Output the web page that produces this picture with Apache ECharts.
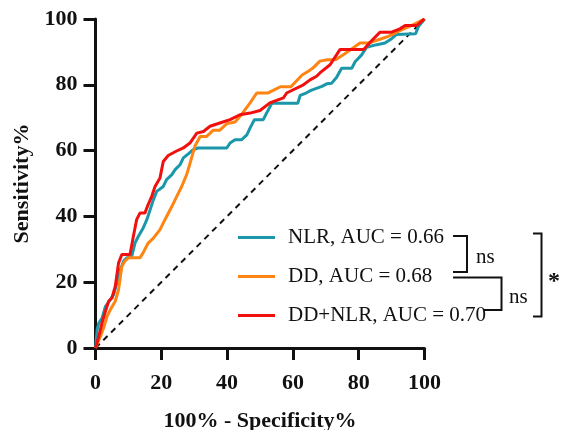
<!DOCTYPE html>
<html>
<head>
<meta charset="utf-8">
<script src="https://cdn.jsdelivr.net/npm/echarts@6/dist/echarts.min.js"></script>
<style>
  html, body { margin: 0; padding: 0; background: #fff; }
  #chart { width: 561px; height: 430px; }
</style>
</head>
<body>
<div id="chart"></div>
<script>
// ROC curves: [100% - specificity %, sensitivity %]
const nlrPoints = [
  [0,0],[0.5,5.6],[1,7.6],[2,9.1],[3,12.6],[4.5,14.7],[5.5,16.2],[6.5,19.8],[7.5,23.8],
  [8.6,26.5],[9.5,27.4],[11,27.8],[12,31.9],[13,33.9],[14.5,36.5],[15.6,39],[16.6,42],
  [17.6,45.1],[18.6,47.6],[20.6,49.1],[21.6,51.2],[23.2,52.7],[24.2,54.2],[25.7,55.7],
  [26.7,57.8],[28.2,59],[29.7,60.3],[31.2,60.8],[39.9,60.8],[40.9,62.3],[42.4,63.3],
  [44.4,63.3],[46,64.8],[47,66.9],[48.3,69.4],[51,69.4],[52,71.4],[53.6,74.4],[61.5,74.4],
  [62.2,76.8],[64,77.5],[65.5,78.3],[68.8,79.5],[70.3,80.3],[71.8,80.5],[73.3,82.3],
  [74.8,85],[77.9,85],[78.9,87],[80.9,89.1],[82.4,91.4],[85.5,92.2],[88,92.7],[90,94],
  [91.5,95.3],[97.3,95.5],[98.1,97.6],[100,100]
];
const ddPoints = [
  [0,0],[1.5,3.5],[2.5,6.2],[3.5,9.6],[4.5,11.6],[6,14.2],[7,17.7],[8,24.8],[9,26.5],
  [10,27.4],[13.5,27.4],[14.5,29],[16,31.9],[17.6,33.4],[19.6,36],[21.1,39],[23.2,43],
  [24.7,46.1],[26.2,49.1],[27.7,52.7],[28.4,55],[30.2,61.3],[31.8,64.3],[33.8,64.3],
  [35.8,66.2],[37.8,66.2],[39.9,68.2],[42.4,68.7],[44.4,71],[47,74.5],[49,77.5],
  [52.3,77.5],[54,78.3],[56.2,79.4],[59.4,79.4],[62.8,83],[64.8,84.2],[66,85],
  [68.2,87.2],[70.5,87.6],[73,87.6],[75.3,89.1],[80.4,92.7],[82.9,92.7],[86,93.7],
  [89,94.7],[92,96.2],[95.6,97.8],[100,100]
];
const ddNlrPoints = [
  [0,0],[1,3.5],[2,7.7],[3,11.1],[4,14.2],[5,15.2],[6,18.7],[7,25.8],[8,28.4],[10.5,28.4],
  [11.5,33.9],[12.5,39],[13.5,41],[15,41],[16,43.6],[17.1,46.1],[18.1,49.1],[19.6,51.7],
  [20.6,56.7],[22.1,58.5],[24.5,59.8],[26.7,60.8],[28.7,62.3],[30.8,65.3],[32.8,65.8],
  [34.8,67.4],[37.8,68.4],[40.9,69.4],[43.9,70.9],[47,71.4],[50,72.2],[53,74.5],
  [57.1,76],[58.1,77.5],[60.1,78.5],[63.2,80],[65.2,81.5],[67.2,82.6],[68.2,83.6],
  [71.3,86.1],[74.3,90.7],[81.5,90.7],[84.2,93.7],[86.5,96],[90,96],[92.5,97],
  [94.1,98],[97.6,98],[99.1,99.3],[100,100]
];
const chanceLine = [[0,0],[100,100]];

const seriesNames = ['NLR', 'DD', 'DD+NLR'];
const aucValues = ['0.66', '0.68', '0.70'];
const seriesColors = ['#1a98aa', '#ff8412', '#f2100f'];
const axisTicks = [0, 20, 40, 60, 80, 100];

const serif = '"Liberation Serif", "Times New Roman", serif';
const ink = '#111';

const labelNames = seriesNames.map((n, i) => n + ', AUC = ' + aucValues[i]);

const chart = echarts.init(document.getElementById('chart'), null, { renderer: 'canvas' });

const axisCommon = {
  type: 'value',
  min: axisTicks[0],
  max: axisTicks[axisTicks.length - 1],
  interval: axisTicks[1] - axisTicks[0],
  nameLocation: 'middle',
  nameTextStyle: { fontFamily: serif, fontWeight: 'bold', fontSize: 22, color: ink },
  axisLine: { show: true, lineStyle: { color: ink, width: 3 } },
  axisTick: { show: true, length: 12, lineStyle: { color: ink, width: 3 } },
  axisLabel: { fontFamily: serif, fontWeight: 'bold', fontSize: 22, color: ink },
  splitLine: { show: false }
};

const curves = [nlrPoints, ddPoints, ddNlrPoints].map((pts, i) => ({
  type: 'line',
  name: labelNames[i],
  data: pts,
  showSymbol: false,
  symbol: 'none',
  animation: false,
  z: 3 + i,
  lineStyle: { color: seriesColors[i], width: 3 },
  itemStyle: { color: seriesColors[i] }
}));

const bracket = (pts) => ({
  type: 'polyline',
  shape: { points: pts },
  style: { stroke: ink, lineWidth: 2, fill: null },
  silent: true
});
const note = (x, y, text, size, bold) => ({
  type: 'text',
  x: x, y: y,
  style: {
    text: text, fill: ink, fontFamily: serif, fontSize: size,
    fontWeight: bold ? 'bold' : 'normal', verticalAlign: 'middle', align: 'left'
  },
  silent: true
});

chart.setOption({
  backgroundColor: '#fff',
  animation: false,
  grid: {
    left: 95.5, right: 136.5, top: 19, bottom: 82,
    containLabel: false, outerBoundsMode: 'none'
  },
  xAxis: Object.assign({}, axisCommon, {
    name: '100% - Specificity%',
    nameGap: 62,
    axisLabel: Object.assign({}, axisCommon.axisLabel, { margin: 24 })
  }),
  yAxis: Object.assign({}, axisCommon, {
    name: 'Sensitivity%',
    nameGap: 60,
    axisLabel: Object.assign({}, axisCommon.axisLabel, { margin: 18 })
  }),
  legend: {
    orient: 'vertical',
    left: 233,
    top: 222,
    icon: 'rect',
    itemWidth: 37,
    itemHeight: 3,
    itemGap: 18,
    data: labelNames,
    textStyle: {
      fontFamily: serif, fontSize: 21, color: ink, lineHeight: 21,
      padding: [0, 0, 0, 8]
    }
  },
  series: [{
    type: 'line',
    data: chanceLine,
    showSymbol: false,
    symbol: 'none',
    silent: true,
    z: 2,
    lineStyle: { color: ink, width: 2, type: [6, 5] }
  }].concat(curves),
  graphic: [
    bracket([[453, 236], [467, 236], [467, 272], [453, 272]]),
    note(476, 257, 'ns', 21, false),
    bracket([[453, 277.5], [501.5, 277.5], [501.5, 310], [483, 310]]),
    note(509, 297, 'ns', 21, false),
    bracket([[533, 233.5], [541.5, 233.5], [541.5, 316.5], [533, 316.5]]),
    note(548, 282, '*', 24, true)
  ]
});
</script>
</body>
</html>
